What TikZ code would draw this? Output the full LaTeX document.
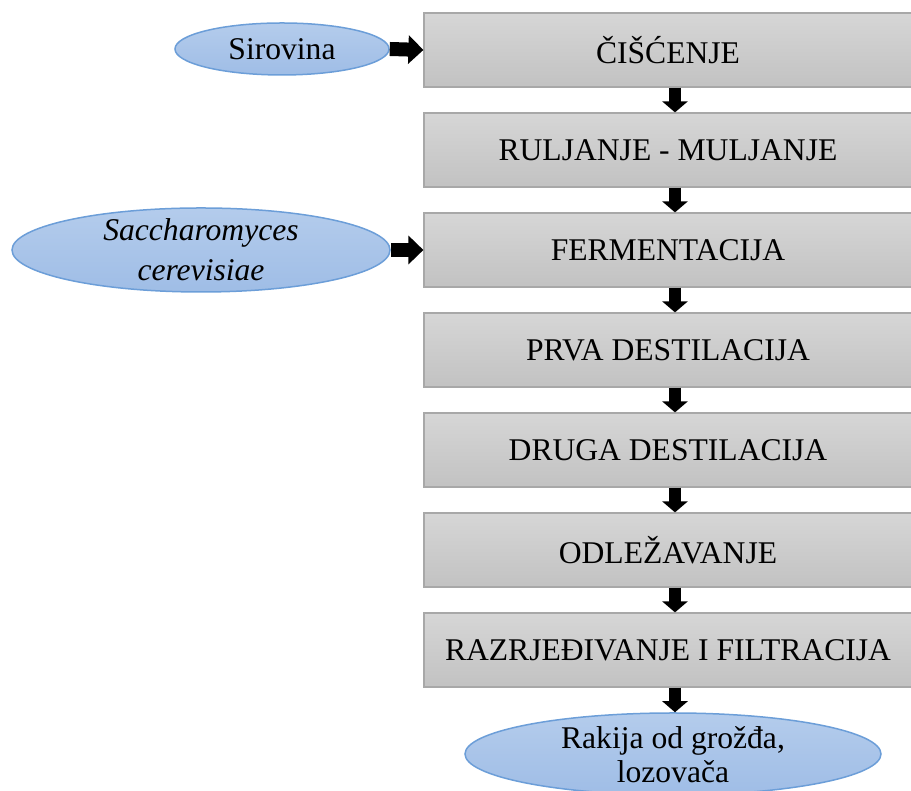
\documentclass[tikz,border=0pt]{standalone}
\usepackage{fontspec}
\setmainfont{Liberation Serif}
\usetikzlibrary{shapes.geometric,arrows.meta}
\definecolor{boxtop}{HTML}{D6D6D6}
\definecolor{boxbot}{HTML}{C2C2C2}
\definecolor{boxline}{HTML}{A8A8A8}
\definecolor{elltop}{HTML}{B4CCEC}
\definecolor{ellbot}{HTML}{9FBDE6}
\definecolor{ellline}{HTML}{6C9ED8}
\tikzset{
  x=1pt,y=1pt,
  stepbox/.style={rectangle, draw=boxline, line width=1.2pt, top color=boxtop, bottom color=boxbot,
    minimum width=488pt, minimum height=74pt, inner sep=0pt, font=\fontsize{31.6}{36}\selectfont},
  ellbox/.style={ellipse, draw=ellline, line width=1.5pt, top color=elltop, bottom color=ellbot, inner sep=0pt},
  elltext/.style={font=\fontsize{31.6}{34}\selectfont, align=center, inner sep=0pt},
  downarrow/.style={line width=12pt, line cap=butt, -{Triangle[width=25pt,length=11pt]}},
  rightarrow/.style={line width=14pt, line cap=butt, -{Triangle[width=28pt,length=15pt]}},
}
\begin{document}
\begin{tikzpicture}
\useasboundingbox (0,0) rectangle (911,791);
% boxes
\foreach \i/\t [count=\k from 0] in {b1/{ČIŠĆENJE},b2/{RULJANJE - MULJANJE},b3/{FERMENTACIJA},b4/{PRVA DESTILACIJA},b5/{DRUGA DESTILACIJA},b6/{ODLEŽAVANJE},b7/{RAZRJEĐIVANJE I FILTRACIJA}}{
  \pgfmathsetmacro\yy{791-50-100*\k}
  \node[stepbox] (\i) at (668,\yy) {\t};
}
% ellipses
\node[ellbox, minimum width=214pt, minimum height=52pt] (sir) at (282,742) {};
\node[elltext] (sirt) at (sir.center) {Sirovina};
\node[ellbox, minimum width=378pt, minimum height=84pt] (sac) at (201,541) {};
\node[elltext, font=\fontsize{31.6}{40}\selectfont\itshape] (sact) at (sac.center) {Saccharomyces\\cerevisiae};
\node[ellbox, minimum width=416pt, minimum height=82pt] (rak) at (673,37) {};
\node[elltext] (rakt) at ([yshift=-1pt]rak.center) {Rakija od grožđa,\\lozovača};
% arrows
\draw[rightarrow] (sir.east) -- (b1.west);
\draw[rightarrow] (sac.east) -- (sac.east -| b3.west);
\foreach \a/\b in {b1/b2,b2/b3,b3/b4,b4/b5,b5/b6,b6/b7}{
  \draw[downarrow] ([xshift=7pt]\a.south) -- ([xshift=7pt]\b.north);
}
\draw[downarrow] ([xshift=7pt]b7.south) -- ([xshift=7pt]b7.south |- rak.north);
\end{tikzpicture}
\end{document}
